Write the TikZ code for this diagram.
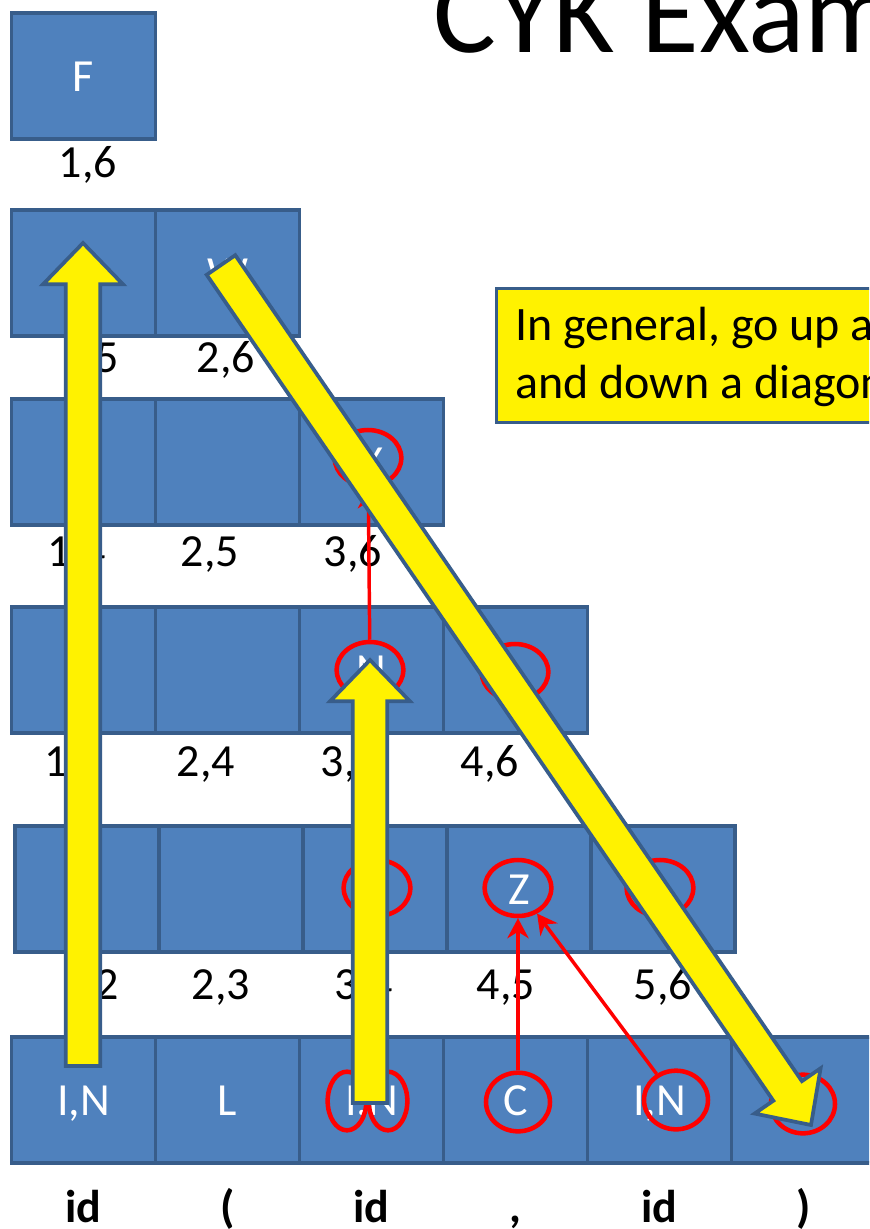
\documentclass[tikz,border=0pt]{standalone}
\usepackage{fontspec}
\setmainfont{Carlito}
\usetikzlibrary{arrows.meta,calc,shapes.geometric}
\definecolor{cellblue}{HTML}{4F81BD}
\definecolor{cellline}{HTML}{385D8A}
\newcommand{\fatarrow}[2]{%
  \coordinate (#1-base) at ($(#2)!31pt!(#1)$);
  \draw[bigarrow] ($(#1)!13pt!90:(#2)$) -- ($(#1-base)!13pt!90:(#2)$) -- ($(#1-base)!30pt!90:(#2)$) -- (#2)
    -- ($(#1-base)!30pt!-90:(#2)$) -- ($(#1-base)!13pt!-90:(#2)$) -- ($(#1)!13pt!-90:(#2)$) -- cycle;
}
\begin{document}
\begin{tikzpicture}[x=0.75pt, y=-0.75pt,
    every node/.style={font=\fontsize{34.5}{40}\selectfont},
    cell/.style={rectangle, draw=cellline, fill=cellblue, line width=2.4pt, minimum width=108pt, minimum height=94.5pt, inner sep=0pt, text=white, text height=22.5pt, text depth=0pt},
    celltext/.style={inner sep=0pt, text=white, text height=22.5pt, text depth=0pt},
    spanlabel/.style={anchor=base, inner sep=0pt},
    token/.style={anchor=base, inner sep=0pt, font=\fontsize{34.5}{40}\selectfont\bfseries},
    ring/.style={ellipse, draw=red, line width=3.4pt, inner sep=0pt, minimum width=50pt, minimum height=42pt},
    backptr/.style={draw=red, line width=2.6pt, -{Stealth[length=15pt, width=16pt]}},
    bigarrow/.style={draw=cellline, fill=yellow, line width=2.8pt, line join=miter},
    hintbox/.style={rectangle, draw=cellline, fill=yellow, line width=2.4pt, minimum width=304pt, minimum height=100.5pt, inner sep=0pt},
    hint/.style={anchor=base west, inner sep=0pt, font=\fontsize{36}{42}\selectfont}
  ]
    \clip (0,0) rectangle (869,1229);
    \fill[white] (0,0) rectangle (869,1229);
    \node[anchor=base west, inner sep=0pt, font=\fontsize{88.5}{100}\selectfont] (title) at (433,52) {CYK Example};

    \foreach \k/\y/\sx in {6/76/0, 5/273/0, 4/462/0, 3/670/0, 2/889/3.5} {
      \pgfmathtruncatemacro\n{7-\k}
      \foreach \i in {1,...,\n} {
        \pgfmathtruncatemacro\j{\i+\k-1}
        \node[cell] (c\i\j) at ({83.5+\sx+144*(\i-1)},\y) {};
      }
    }
    \foreach \i/\sym/\tok in {1/{I,N}/id, 2/L/{(}, 3/{I,N}/id, 4/C/{,}, 5/{I,N}/id, 6/{}/{)}} {
      \node[cell] (c\i\i) at ({83.5+144*(\i-1)},1100) {\sym};
      \node[token] (w\i) at ({83.5+144*(\i-1)},1222) {\tok};
    }
    \foreach \a/\b/\x/\y in {1/6/88/177, 1/5/90/372, 2/6/226/372, 1/4/77/566, 2/5/210/566, 3/6/353/566,
        1/3/74/776, 2/4/206/776, 3/5/350/776, 4/6/490/776, 1/2/90/999, 2/3/221/999, 3/4/364/999, 4/5/506/999, 5/6/663/999} {
      \node[spanlabel] (l\a\b) at (\x,\y) {\a,\b};
    }
    \node[celltext] (tF) at (c16) {F};
    \node[celltext] (tW) at (c26) {W};
    \node[celltext] (tX) at (c36) {X};
    \node[celltext] (tN) at (c35) {N};
    \node[celltext] (tZ) at (c45) {Z};

    \node[hintbox, anchor=north west] (hintbg) at (495,287) {};
    \node[hint] (hint1) at (515,340) {In general, go up a column};
    \node[hint] (hint2) at (515,398) {and down a diagonal};

    \node[ring] (rX) at (368,458) {};
    \node[ring] (rN) at (370,670) {};
    \node[ring] (r46) at (515,672) {};
    \node[ring] (r34) at (377,888) {};
    \node[ring] (rZ) at (518,888) {};
    \node[ring] (r56) at (660,888) {};
    \node[ring, minimum width=29pt, minimum height=44pt] (rI) at (347,1101) {};
    \node[ring, minimum width=29pt, minimum height=44pt] (rN3) at (388,1101) {};
    \node[ring, minimum width=48pt, minimum height=44pt] (rC) at (518,1102) {};
    \node[ring, minimum width=48pt, minimum height=44pt] (rN5) at (676,1100) {};
    \node[ring, minimum width=48pt, minimum height=44pt] (rR) at (803,1104) {};
    \draw[backptr] (rC) -- (rZ);
    \draw[backptr] (rN5) -- (rZ);
    \draw[backptr] (rN) -- (rX);

    \coordinate (upL) at (83,1066);
    \coordinate (upLtip) at (83,243);
    \coordinate (upM) at (370,1103);
    \coordinate (upMtip) at (370,660);
    \coordinate (diag) at (221,265);
    \coordinate (diagtip) at (811,1125);
    \fatarrow{upL}{upLtip}
    \fatarrow{upM}{upMtip}
    \fatarrow{diag}{diagtip}
\end{tikzpicture}
\end{document}
